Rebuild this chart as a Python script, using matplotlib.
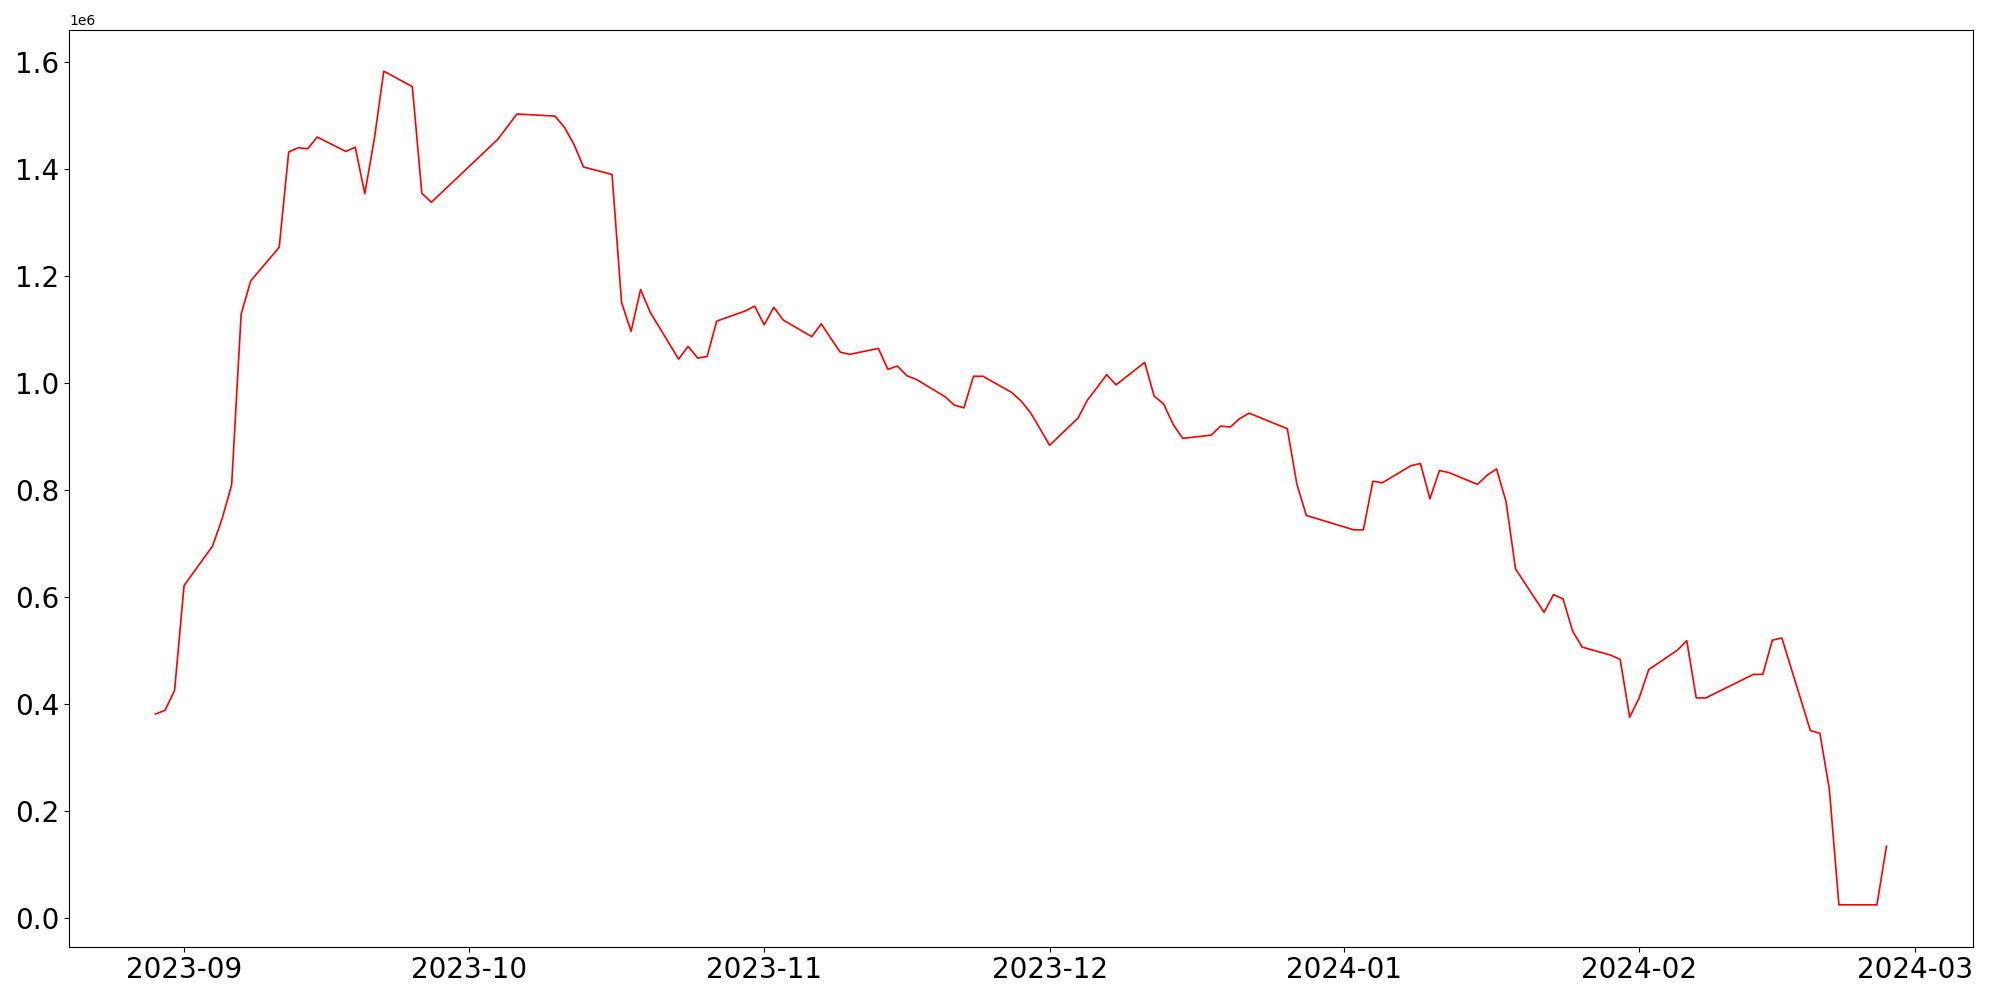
import matplotlib
matplotlib.use("Agg")
import matplotlib.pyplot as plt
import matplotlib.dates as mdates
import numpy as np

dates = [
    "2023-08-29", "2023-08-30", "2023-08-31", "2023-09-01",
    "2023-09-04", "2023-09-05", "2023-09-06", "2023-09-07", "2023-09-08",
    "2023-09-11", "2023-09-12", "2023-09-13", "2023-09-14", "2023-09-15",
    "2023-09-18", "2023-09-19", "2023-09-20", "2023-09-21", "2023-09-22",
    "2023-09-25", "2023-09-26", "2023-09-27",
    "2023-10-04", "2023-10-06",
    "2023-10-10", "2023-10-11", "2023-10-12", "2023-10-13",
    "2023-10-16", "2023-10-17", "2023-10-18", "2023-10-19", "2023-10-20",
    "2023-10-23", "2023-10-24", "2023-10-25", "2023-10-26", "2023-10-27",
    "2023-10-30", "2023-10-31", "2023-11-01", "2023-11-02", "2023-11-03",
    "2023-11-06", "2023-11-07", "2023-11-08", "2023-11-09", "2023-11-10",
    "2023-11-13", "2023-11-14", "2023-11-15", "2023-11-16", "2023-11-17",
    "2023-11-20", "2023-11-21", "2023-11-22", "2023-11-23", "2023-11-24",
    "2023-11-27", "2023-11-28", "2023-11-29", "2023-11-30", "2023-12-01",
    "2023-12-04", "2023-12-05", "2023-12-06", "2023-12-07", "2023-12-08",
    "2023-12-11", "2023-12-12", "2023-12-13", "2023-12-14", "2023-12-15",
    "2023-12-18", "2023-12-19", "2023-12-20", "2023-12-21", "2023-12-22",
    "2023-12-26", "2023-12-27", "2023-12-28",
    "2024-01-02", "2024-01-03", "2024-01-04", "2024-01-05",
    "2024-01-08", "2024-01-09", "2024-01-10", "2024-01-11", "2024-01-12",
    "2024-01-15", "2024-01-16", "2024-01-17", "2024-01-18", "2024-01-19",
    "2024-01-22", "2024-01-23", "2024-01-24", "2024-01-25", "2024-01-26",
    "2024-01-29", "2024-01-30", "2024-01-31", "2024-02-01", "2024-02-02",
    "2024-02-05", "2024-02-06", "2024-02-07", "2024-02-08",
    "2024-02-13", "2024-02-14", "2024-02-15", "2024-02-16",
    "2024-02-19", "2024-02-20", "2024-02-21", "2024-02-22", "2024-02-23",
    "2024-02-26", "2024-02-27",
]

values = [
    0.381, 0.388, 0.425, 0.621,
    0.695, 0.746, 0.809, 1.128, 1.190,
    1.253, 1.431, 1.439, 1.437, 1.459,
    1.432, 1.440, 1.353, 1.455, 1.582,
    1.553, 1.354, 1.337,
    1.455, 1.502,
    1.498, 1.477, 1.445, 1.403,
    1.389, 1.150, 1.096, 1.174, 1.132,
    1.044, 1.068, 1.046, 1.049, 1.115,
    1.134, 1.143, 1.108, 1.141, 1.117,
    1.086, 1.110, 1.083, 1.057, 1.053,
    1.064, 1.025, 1.031, 1.013, 1.006,
    0.974, 0.958, 0.953, 1.012, 1.012,
    0.982, 0.966, 0.944, 0.914, 0.883,
    0.934, 0.968, 0.991, 1.015, 0.996,
    1.038, 0.975, 0.960, 0.922, 0.896,
    0.902, 0.919, 0.917, 0.933, 0.943,
    0.914, 0.811, 0.752,
    0.725, 0.725, 0.816, 0.813,
    0.845, 0.849, 0.783, 0.836, 0.832,
    0.810, 0.827, 0.839, 0.778, 0.652,
    0.571, 0.604, 0.596, 0.536, 0.506,
    0.491, 0.483, 0.375, 0.411, 0.464,
    0.500, 0.518, 0.411, 0.411,
    0.455, 0.455, 0.519, 0.523,
    0.350, 0.345, 0.240, 0.0245, 0.0245,
    0.0245, 0.134,
]

x = np.array(dates, dtype="datetime64[D]")
y = np.array(values) * 1e6

fig, ax = plt.subplots(figsize=(20, 10), dpi=100)
ax.plot(x, y, color="red", linewidth=1.2)

ax.xaxis.set_major_locator(mdates.MonthLocator())
ax.xaxis.set_major_formatter(mdates.DateFormatter("%Y-%m"))
ax.tick_params(axis="both", labelsize=20)

fig.subplots_adjust(left=0.0345, right=0.9865, top=0.9705, bottom=0.0535)
fig.savefig("out.png", dpi=100)
